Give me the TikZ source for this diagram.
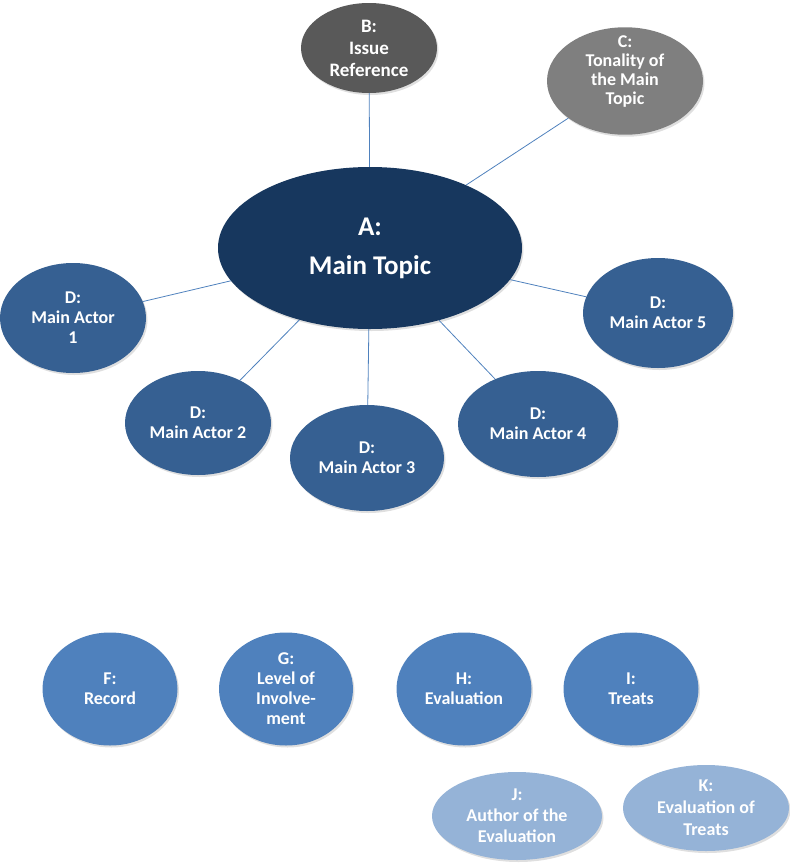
\documentclass[tikz,border=0pt]{standalone}
\usepackage{fontspec}
\setmainfont{Carlito}
\usetikzlibrary{shapes.geometric,shadows}
\definecolor{cA}{HTML}{17375E}
\definecolor{cB}{HTML}{595959}
\definecolor{cC}{HTML}{7F7F7F}
\definecolor{cD}{HTML}{366092}
\definecolor{cF}{HTML}{4F81BD}
\definecolor{cJ}{HTML}{95B3D7}
\definecolor{cLine}{HTML}{4F81BD}
\newcommand{\liftup}[2]{\raisebox{#1}[\height][\depth]{\begin{tabular}{@{}c@{}}#2\end{tabular}}}
\begin{document}
\begin{tikzpicture}[x=1pt,y=-1pt,
  ell/.style={ellipse, inner sep=0pt, text=white, align=center,
    font=\bfseries\fontsize{18}{20}\selectfont,
    drop shadow={opacity=0.25, shadow xshift=1.5pt, shadow yshift=-2pt}},
  link/.style={draw=cLine, line width=0.8pt}]
\useasboundingbox (0,0) rectangle (790,865);
\node[ell, fill=cA, minimum width=304pt, minimum height=162pt,
  font=\bfseries\fontsize{27}{39}\selectfont] (A) at (370,248) {A:\\Main Topic};
\node[ell, fill=cB, minimum width=136pt, minimum height=90pt,
  font=\bfseries\fontsize{19}{22}\selectfont] (B) at (369,48) {B:\\Issue\\Reference};
\node[ell, fill=cC, minimum width=156pt, minimum height=96pt, align=none,
  font=\bfseries\fontsize{18}{19}\selectfont] (C) at (625,81)
  {\liftup{9pt}{C:\\Tonality of\\the Main\\Topic}};
\node[ell, fill=cD, minimum width=146pt, minimum height=110pt] (D1) at (73,318) {D:\\Main Actor\\1};
\node[ell, fill=cD, minimum width=146pt, minimum height=104pt] (D2) at (198,423) {D:\\Main Actor 2};
\node[ell, fill=cD, minimum width=154pt, minimum height=106pt] (D3) at (367,458) {D:\\Main Actor 3};
\node[ell, fill=cD, minimum width=160pt, minimum height=106pt] (D4) at (538,424) {D:\\Main Actor 4};
\node[ell, fill=cD, minimum width=150pt, minimum height=110pt] (D5) at (658,313) {D:\\Main Actor 5};
\node[ell, fill=cF, minimum width=135pt, minimum height=113pt] (F) at (110,689) {F:\\Record};
\node[ell, fill=cF, minimum width=134pt, minimum height=113pt] (G) at (286,689) {G:\\Level of\\Involve-\\ment};
\node[ell, fill=cF, minimum width=135pt, minimum height=113pt] (H) at (464,689) {H:\\Evaluation};
\node[ell, fill=cF, minimum width=135pt, minimum height=113pt] (I) at (631,689) {I:\\Treats};
\node[ell, fill=cJ, minimum width=170pt, minimum height=88pt,
  font=\bfseries\fontsize{18}{21}\selectfont] (J) at (517,816) {J:\\Author of the\\Evaluation};
\node[ell, fill=cJ, minimum width=166pt, minimum height=86pt,
  font=\bfseries\fontsize{18}{22}\selectfont] (K) at (706,808) {K:\\Evaluation of\\Treats};
\draw[link] (A) -- (B);
\draw[link] (A) -- (C);
\draw[link] (A) -- (D1);
\draw[link] (A) -- (D2);
\draw[link] (A) -- (D3);
\draw[link] (A) -- (D4);
\draw[link] (A) -- (D5);
\end{tikzpicture}
\end{document}
